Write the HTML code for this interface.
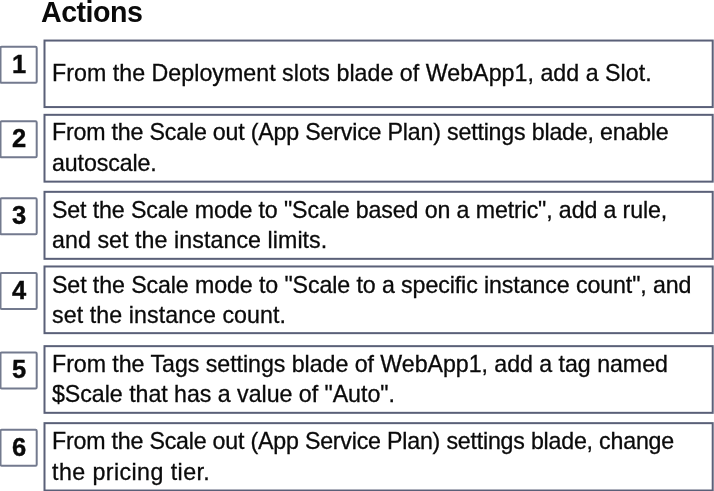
<!DOCTYPE html>
<html><head><meta charset="utf-8"><style>
html,body{margin:0;padding:0;background:#fff;width:714px;height:491px;overflow:hidden;position:relative}
body{font-family:"Liberation Sans",sans-serif;color:#0a0a0a}
.l{-webkit-text-stroke:0.3px #0a0a0a}
.d{-webkit-text-stroke:0.4px #0a0a0a}
svg{position:absolute;left:0;top:0}
.t,.d,.l{will-change:transform}
.t{position:absolute;left:41px;top:-4px;font-weight:bold;font-size:28.6px;line-height:32px;white-space:pre;letter-spacing:-0.5px}
.d{position:absolute;left:0px;width:38px;text-align:center;font-weight:bold;font-size:25.5px;line-height:30px}
.l{position:absolute;left:52px;font-size:23.2px;line-height:30px;white-space:pre}
</style></head><body>
<svg width="714" height="491" viewBox="0 0 714 491"><g fill="none" stroke="#5a6078" stroke-width="2">
<rect x="44.5" y="40.55" width="668.20" height="66.52"/>
<rect x="44.5" y="114.83" width="668.20" height="66.81"/>
<rect x="44.5" y="191.83" width="668.20" height="67.00"/>
<rect x="44.5" y="266.48" width="668.20" height="66.67"/>
<rect x="44.5" y="346.15" width="668.20" height="66.68"/>
<rect x="44.5" y="423.15" width="668.20" height="67.35"/>
</g><g fill="none" stroke="#737a8e" stroke-width="2">
<rect x="0.5" y="46.75" width="36.20" height="36.05" rx="1.2"/>
<rect x="0.5" y="121.3" width="36.20" height="36.00" rx="1.2"/>
<rect x="0.5" y="198.2" width="36.20" height="36.10" rx="1.2"/>
<rect x="0.5" y="272.9" width="36.20" height="36.00" rx="1.2"/>
<rect x="0.5" y="352.5" width="36.20" height="35.90" rx="1.2"/>
<rect x="0.5" y="429.8" width="36.20" height="35.90" rx="1.2"/>
</g></svg>
<div class="t">Actions</div>
<div class="d" style="top:48.7px">1</div>
<div class="d" style="top:123.1px">2</div>
<div class="d" style="top:200.3px">3</div>
<div class="d" style="top:275.3px">4</div>
<div class="d" style="top:354.3px">5</div>
<div class="d" style="top:432.1px">6</div>
<div class="l" style="top:57.76px;letter-spacing:0.037px">From the Deployment slots blade of WebApp1, add a Slot.</div>
<div class="l" style="top:117.26px;letter-spacing:-0.186px">From the Scale out (App Service Plan) settings blade, enable</div>
<div class="l" style="top:147.76px;letter-spacing:-0.111px">autoscale.</div>
<div class="l" style="top:194.56px;letter-spacing:-0.119px">Set the Scale mode to &quot;Scale based on a metric&quot;, add a rule,</div>
<div class="l" style="top:224.56px;letter-spacing:0.074px">and set the instance limits.</div>
<div class="l" style="top:269.56px;letter-spacing:-0.097px">Set the Scale mode to &quot;Scale to a specific instance count&quot;, and</div>
<div class="l" style="top:299.56px;letter-spacing:0.091px">set the instance count.</div>
<div class="l" style="top:348.61px;letter-spacing:-0.036px">From the Tags settings blade of WebApp1, add a tag named</div>
<div class="l" style="top:378.61px;letter-spacing:-0.030px">$Scale that has a value of &quot;Auto&quot;.</div>
<div class="l" style="top:425.76px;letter-spacing:-0.203px">From the Scale out (App Service Plan) settings blade, change</div>
<div class="l" style="top:456.56px;letter-spacing:0.437px">the pricing tier.</div>
</body></html>
